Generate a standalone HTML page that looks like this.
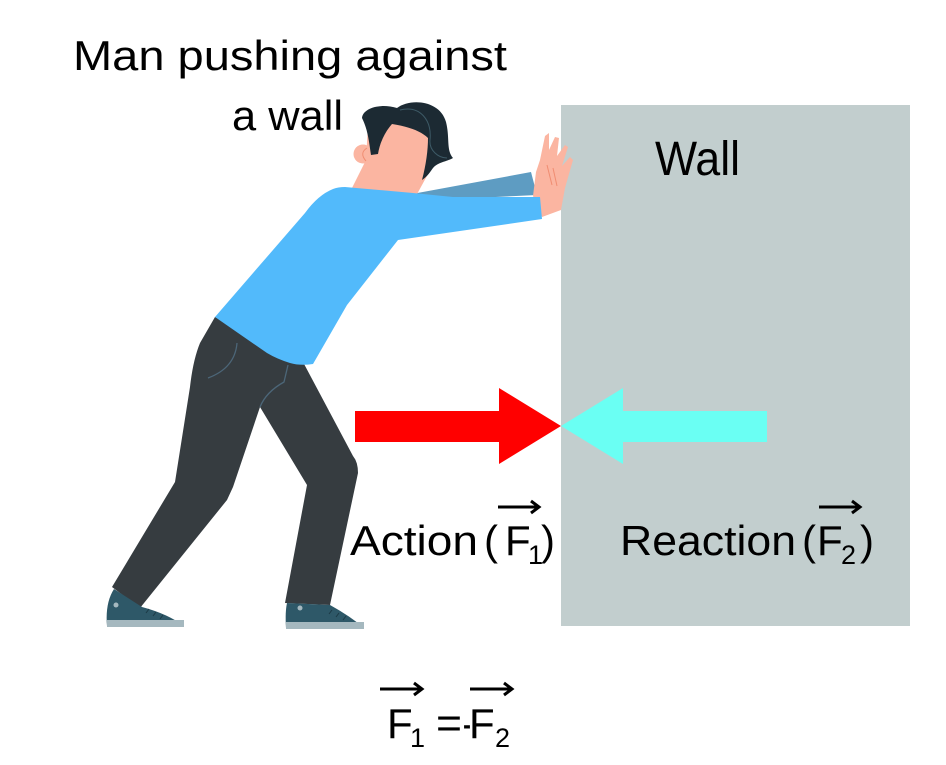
<!DOCTYPE html>
<html>
<head>
<meta charset="utf-8">
<style>
  html, body { margin:0; padding:0; background:#ffffff; }
  svg { display:block; }
  text { font-family: "Liberation Sans", "DejaVu Sans", sans-serif; fill:#000; }
</style>
</head>
<body>
<svg width="946" height="765" viewBox="0 0 946 765" xmlns="http://www.w3.org/2000/svg">
  <rect x="0" y="0" width="946" height="765" fill="#ffffff"/>

  <!-- Wall -->
  <rect x="561" y="105" width="349" height="521" fill="#C2CECE"/>

  <!-- Back sleeve (darker) -->
  <path d="M412,194 L531,172 L537,195 L453,199 Z" fill="#5E9CC2"/>

  <!-- Hand -->
  <path d="M533,196 L536,172 L540,160 L545,136 L549,133 L549,150 L555,137 L559,138 L557,156 L565,145 L568,147 L562,166 L570,157 L573,160 L565,188 L561,210 L542,217 Z" fill="#FBB5A1"/>
  <path d="M547,165 L552,185 M553,168 L557,186" stroke="#F08D72" stroke-width="1" fill="none"/>

  <!-- Neck + face -->
  <path d="M368,124 L428,118 L434,163 L416,196 L348,196 L366,160 Z" fill="#FBB5A1"/>
  <!-- Ear -->
  <circle cx="363" cy="154" r="9.5" fill="#FBB5A1"/>
  <path d="M367,148 Q359,153 366,161" stroke="#F08D72" stroke-width="1" fill="none"/>
  <!-- Hair -->
  <path d="M362,118 C363,108 380,103 397,108 C410,98 440,100 446,122 C450,138 446,150 453,158 C446,162 438,162 433,168 C430,172 428,176 422,180 C426,165 428,150 428,138 C420,130 405,126 392,124 C385,132 380,142 378,154 L371,155 C369,142 368,130 362,118 Z" fill="#1C2A33"/>
  <path d="M400,110 C420,105 432,120 430,140 C429,150 438,158 447,158" stroke="#3d5a66" stroke-width="1" fill="none"/>

  <!-- Pants -->
  <path d="M215,317 L200,343 Q193,360 190,387 L175,482 L112,587 L140,608 L227,500 L233,487 L260,407 L307,485 L285,603 L330,605 L358,473 Q358,462 353,456 L303,362 Z" fill="#363C40"/>
  <path d="M237,343 Q235,368 208,378" stroke="#4C6678" stroke-width="1.3" fill="none"/>
  <path d="M288,365 L284,382 Q266,392 260,407" stroke="#4C6678" stroke-width="1.3" fill="none"/>

  <!-- Left shoe -->
  <path d="M114,589 L142,607 Q168,614 184,626 L107,626 Q105,603 114,589 Z" fill="#2E5868"/>
  <rect x="107" y="620" width="77" height="7" fill="#A5B8BF"/>
  <circle cx="116" cy="605" r="2.5" fill="#A5B8BF"/>
  <path d="M146,613 l3,-4 M153,616 l3,-4 M160,619 l3,-4" stroke="#1c3a46" stroke-width="1"/>

  <!-- Right shoe -->
  <path d="M287,603 L330,605 Q350,616 364,628 L286,628 Q285,612 287,603 Z" fill="#2E5868"/>
  <rect x="286" y="622" width="78" height="7" fill="#A5B8BF"/>
  <circle cx="300" cy="608" r="2.5" fill="#A5B8BF"/>
  <path d="M329,614 l3,-4 M336,617 l3,-4 M343,620 l3,-4" stroke="#1c3a46" stroke-width="1"/>

  <!-- Shirt -->
  <path d="M333,189 Q338,187 345,187 L413,193 L453,197 L540,197 L542,219 L398,240 L347,305 L313,364 Q300,366 290,363 Q277,359 267,353 L215,317 L305,213 Q318,195 333,189 Z" fill="#52BAFB"/>

  <!-- Red action arrow -->
  <path d="M355,411 L499,411 L499,388 L561,426 L499,464 L499,442 L355,442 Z" fill="#FF0000"/>
  <!-- Cyan reaction arrow -->
  <path d="M767,411 L623,411 L623,388 L561,426 L623,464 L623,442 L767,442 Z" fill="#6AFFF3"/>

  <!-- Title -->
  <text x="73" y="70" font-size="42" textLength="434" lengthAdjust="spacingAndGlyphs">Man pushing against</text>
  <text x="232" y="130" font-size="42" textLength="111" lengthAdjust="spacingAndGlyphs">a wall</text>

  <!-- Wall label -->
  <text x="655" y="175" font-size="48" textLength="85" lengthAdjust="spacingAndGlyphs">Wall</text>

  <!-- Action label -->
  <text x="350" y="555" font-size="42" textLength="128" lengthAdjust="spacingAndGlyphs">Action</text>
  <text x="484" y="555" font-size="42">(</text>
  <text x="505" y="555" font-size="42">F</text>
  <text x="528" y="564" font-size="27">1</text>
  <text x="541" y="555" font-size="42">)</text>
  <g stroke="#000" stroke-width="3" fill="none">
    <line x1="498" y1="507" x2="539" y2="507"/>
    <polyline points="531,501 539,507 531,513"/>
  </g>

  <!-- Reaction label -->
  <text x="620" y="555" font-size="42" textLength="176" lengthAdjust="spacingAndGlyphs">Reaction</text>
  <text x="802" y="555" font-size="42">(</text>
  <text x="817" y="555" font-size="42">F</text>
  <text x="841" y="564" font-size="27">2</text>
  <text x="860" y="555" font-size="42">)</text>
  <g stroke="#000" stroke-width="3" fill="none">
    <line x1="819" y1="507" x2="860" y2="507"/>
    <polyline points="852,501 860,507 852,513"/>
  </g>

  <!-- Formula -->
  <text x="387" y="738" font-size="42">F</text>
  <text x="410" y="747" font-size="27">1</text>
  <text x="436" y="738" font-size="44" textLength="26" lengthAdjust="spacingAndGlyphs">=</text>
  <text x="463" y="738" font-size="42" textLength="8" lengthAdjust="spacingAndGlyphs">-</text>
  <text x="469" y="738" font-size="42">F</text>
  <text x="495" y="747" font-size="27">2</text>
  <g stroke="#000" stroke-width="3" fill="none">
    <line x1="380" y1="689" x2="422" y2="689"/>
    <polyline points="414,683 422,689 414,695"/>
    <line x1="470" y1="689" x2="512" y2="689"/>
    <polyline points="504,683 512,689 504,695"/>
  </g>
</svg>
</body>
</html>
